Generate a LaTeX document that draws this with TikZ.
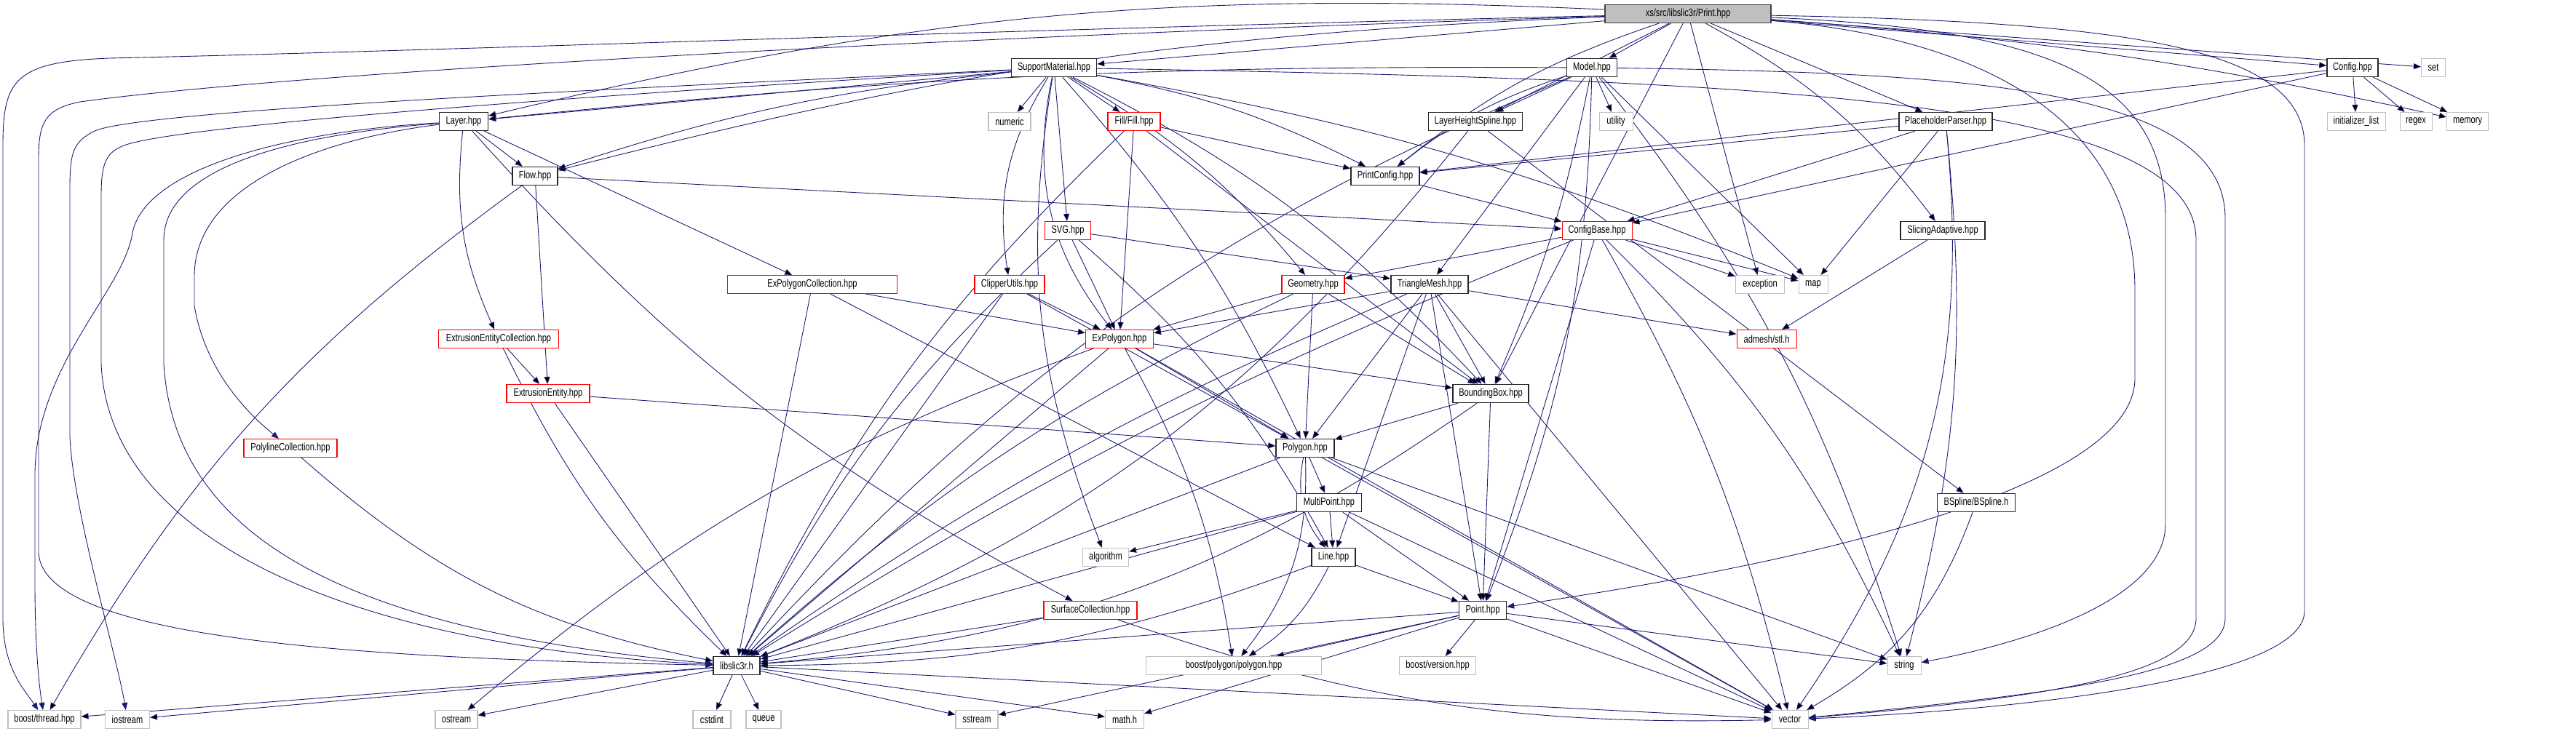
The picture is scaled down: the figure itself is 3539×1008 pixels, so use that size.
\documentclass[tikz,border=0pt]{standalone}
\usepackage{fontspec}
\setmainfont{Liberation Sans}[FakeStretch=0.76]
\usetikzlibrary{arrows.meta}
\definecolor{edgeblue}{HTML}{191970}
\definecolor{sysgray}{HTML}{BFBFBF}
\pgfdeclarelayer{edges}
\pgfsetlayers{edges,main}
\begin{document}
\begin{tikzpicture}
[
    x=0.2mm, y=-0.2mm,
    box/.style={rectangle, inner xsep=1pt, inner ysep=0pt, minimum height=5mm,
        font=\fontsize{8.3pt}{9pt}\selectfont, fill=white},
    wd/.style={minimum width=#1*0.2mm},
    file/.style={box, draw=black!85, line width=0.8pt},
    rootfile/.style={box, draw=black!75, fill=sysgray, line width=0.8pt},
    redfile/.style={box, draw=red, line width=0.6pt},
    sysfile/.style={box, draw=sysgray, line width=0.6pt},
    dep/.style={draw=edgeblue, line width=0.5pt, -{Triangle[length=2mm, width=1.6mm]}}
]
    \useasboundingbox (0,0) rectangle (3539,1008);

    % row 0 and 1
    \node [rootfile, wd=228] (print) at (2319,19) {xs/src/libslic3r/Print.hpp};
    \node [file, wd=117] (support) at (1448,93) {SupportMaterial.hpp};
    \node [file, wd=69] (model) at (2187,93) {Model.hpp};
    \node [file, wd=70] (config) at (3232,93) {Config.hpp};
    \node [sysfile, wd=33] (set) at (3343,93) {set};

    % row 2
    \node [file, wd=67] (layer) at (637,167) {Layer.hpp};
    \node [sysfile, wd=58] (numeric) at (1387,167) {numeric};
    \node [redfile, wd=72] (fill) at (1558,167) {Fill/Fill.hpp};
    \node [file, wd=129] (lhs) at (2027,167) {LayerHeightSpline.hpp};
    \node [sysfile, wd=46] (utility) at (2220,167) {utility};
    \node [file, wd=128] (placeholder) at (2673,167) {PlaceholderParser.hpp};
    \node [sysfile, wd=80] (initlist) at (3237,167) {initializer\_list};
    \node [sysfile, wd=44] (regex) at (3319,167) {regex};
    \node [sysfile, wd=57] (memory) at (3390,167) {memory};

    % rows 3 and 4
    \node [file, wd=62] (flow) at (735,242) {Flow.hpp};
    \node [file, wd=94] (printconfig) at (1903,242) {PrintConfig.hpp};
    \node [redfile, wd=63] (svg) at (1467,317) {SVG.hpp};
    \node [redfile, wd=96] (configbase) at (2194,317) {ConfigBase.hpp};
    \node [file, wd=116] (slicing) at (2669,317) {SlicingAdaptive.hpp};

    % rows 5 to 7
    \node [redfile, wd=233] (expcoll) at (1116,391) {ExPolygonCollection.hpp};
    \node [redfile, wd=96] (clipper) at (1387,391) {ClipperUtils.hpp};
    \node [redfile, wd=86] (geometry) at (1804,391) {Geometry.hpp};
    \node [file, wd=106] (trimesh) at (1964,391) {TriangleMesh.hpp};
    \node [sysfile, wd=67] (exception) at (2418,391) {exception};
    \node [sysfile, wd=40] (map) at (2491,391) {map};
    \node [redfile, wd=165] (eecoll) at (685,466) {ExtrusionEntityCollection.hpp};
    \node [redfile, wd=93] (expolygon) at (1538,466) {ExPolygon.hpp};
    \node [redfile, wd=82] (admesh) at (2427,466) {admesh/stl.h};
    \node [redfile, wd=114] (eentity) at (753,541) {ExtrusionEntity.hpp};
    \node [file, wd=104] (bbox) at (2048,541) {BoundingBox.hpp};

    % rows 8 to 11
    \node [redfile, wd=128] (polyline) at (399,616) {PolylineCollection.hpp};
    \node [file, wd=80] (polygon) at (1793,616) {Polygon.hpp};
    \node [file, wd=89] (multipoint) at (1826,691) {MultiPoint.hpp};
    \node [file, wd=107] (bspline) at (2715,691) {BSpline/BSpline.h};
    \node [sysfile, wd=63] (algorithm) at (1519,766) {algorithm};
    \node [file, wd=60] (line) at (1832,766) {Line.hpp};
    \node [redfile, wd=128] (surface) at (1498,839) {SurfaceCollection.hpp};
    \node [file, wd=65] (point) at (2037,839) {Point.hpp};

    % rows 12 and 13
    \node [file, wd=64] (libslic3r) at (1012,915) {libslic3r.h};
    \node [sysfile, wd=241] (bpolygon) at (1695,915) {boost/polygon/polygon.hpp};
    \node [sysfile, wd=105] (bversion) at (1975,915) {boost/version.hpp};
    \node [sysfile, wd=46] (string) at (2616,915) {string};
    \node [sysfile, wd=100] (bthread) at (61,989) {boost/thread.hpp};
    \node [sysfile, wd=61] (iostream) at (175,989) {iostream};
    \node [sysfile, wd=58] (ostream) at (627,989) {ostream};
    \node [sysfile, wd=52] (cstdint) at (978,989) {cstdint};
    \node [sysfile, wd=48] (queue) at (1049,989) {queue};
    \node [sysfile, wd=58] (sstream) at (1342,989) {sstream};
    \node [sysfile, wd=53] (mathh) at (1545,989) {math.h};
    \node [sysfile, wd=50] (vector) at (2459,989) {vector};

    \begin{pgfonlayer}{edges}
    % Print.hpp
    \path [dep] (print) edge (support) edge (model) edge (config) edge (set)
        edge [bend left=4] (memory) edge [bend right=8] (layer) edge [bend right=6] (flow)
        edge [bend right=10] (printconfig) edge (lhs) edge (placeholder)
        edge [bend left=12] (slicing) edge (bbox) edge (exception);
    \draw [dep] (print) .. controls (1400,40) and (600,70) .. (150,80)
        .. controls (20,85) and (4,110) .. (4,200) -- (4,850)
        .. controls (4,920) and (35,950) .. (bthread);
    \draw [dep] (print) .. controls (1300,50) and (400,100) .. (110,140)
        .. controls (60,150) and (53,170) .. (53,220) -- (53,760)
        .. controls (60,880) and (500,905) .. (libslic3r);
    \draw [dep] (print) .. controls (2900,30) and (3166,60) .. (3166,200) -- (3166,840)
        .. controls (3166,930) and (2800,975) .. (vector);
    \draw [dep] (print) .. controls (2800,40) and (2975,100) .. (2975,300) -- (2975,720)
        .. controls (2975,820) and (2800,880) .. (string);
    \draw [dep] (print) .. controls (2700,50) and (2933,150) .. (2933,400) -- (2933,520)
        .. controls (2933,700) and (2300,800) .. (point);

    % SupportMaterial.hpp
    \path [dep] (support) edge (layer) edge [bend right=6] (flow) edge [bend left=8] (printconfig)
        edge (numeric) edge (fill) edge (svg) edge [bend right=20] (clipper)
        edge [bend right=25] (expolygon) edge [bend left=10] (geometry)
        edge [bend right=15] (algorithm) edge [bend left=10] (bbox)
        edge [bend left=8] (polygon) edge [bend left=6] (map);
    \draw [dep] (support) .. controls (900,120) and (200,150) .. (130,180)
        .. controls (100,195) and (96,210) .. (96,260) -- (96,600)
        .. controls (100,700) and (160,900) .. (iostream);
    \draw [dep] (support) .. controls (900,125) and (250,170) .. (170,200)
        .. controls (145,210) and (139,225) .. (139,270) -- (139,500)
        .. controls (150,750) and (500,890) .. (libslic3r);
    \draw [dep] (support) .. controls (2400,110) and (3017,130) .. (3017,330) -- (3017,850)
        .. controls (3017,930) and (2800,960) .. (vector);

    % Model.hpp
    \path [dep] (model) edge [bend right=3] (layer) edge [bend right=10] (printconfig)
        edge (lhs) edge (utility) edge (trimesh) edge [bend left=6] (bbox)
        edge [bend left=10] (point) edge (map) edge [bend left=10] (string)
        edge [bend right=12] (libslic3r);
    \draw [dep] (model) .. controls (2700,100) and (3057,120) .. (3057,300) -- (3057,850)
        .. controls (3057,930) and (2800,955) .. (vector);

    % Config.hpp
    \path [dep] (config) edge (printconfig) edge (configbase) edge (initlist) edge (regex) edge (memory);

    % Layer.hpp
    \path [dep] (layer) edge (flow) edge [bend right=15] (eecoll) edge (expcoll) edge [bend right=10] (surface);
    \draw [dep] (layer) .. controls (400,180) and (200,230) .. (182,320)
        .. controls (170,400) and (50,500) .. (48,650) -- (48,800)
        .. controls (48,900) and (55,950) .. (bthread);
    \draw [dep] (layer) .. controls (400,185) and (225,230) .. (225,330) -- (225,500)
        .. controls (240,750) and (500,870) .. (libslic3r);
    \draw [dep] (layer) .. controls (450,190) and (267,250) .. (267,380) -- (267,420)
        .. controls (280,500) and (330,560) .. (polyline);

    % second level headers
    \path [dep] (fill) edge (printconfig) edge (expolygon) edge (bbox) edge [bend right=10] (libslic3r);
    \path [dep] (lhs) edge [bend left=15] (libslic3r) edge (bspline);
    \path [dep] (placeholder) edge (printconfig) edge (configbase) edge (map)
        edge [bend left=10] (string) edge [bend left=20] (vector);
    \path [dep] (flow) edge (configbase) edge (eentity) edge [bend right=12] (bthread);
    \path [dep] (printconfig) edge (configbase);
    \path [dep] (svg) edge (expolygon) edge (trimesh) edge [bend left=10] (line) edge [bend right=10] (libslic3r);
    \path [dep] (configbase) edge (geometry) edge (exception) edge (map) edge (point)
        edge [bend left=8] (vector) edge [bend left=10] (string) edge [bend right=5] (libslic3r);
    \path [dep] (slicing) edge (admesh);

    % third level headers
    \path [dep] (expcoll) edge (expolygon) edge (line) edge (libslic3r);
    \path [dep] (eecoll) edge (eentity) edge [bend right=10] (libslic3r);
    \path [dep] (eentity) edge (polygon) edge (libslic3r);
    \path [dep] (polyline) edge [bend right=15] (libslic3r);
    \path [dep] (clipper) edge (expolygon) edge (polygon) edge (libslic3r);
    \path [dep] (geometry) edge (expolygon) edge (polygon) edge (bbox) edge [bend right=8] (libslic3r);
    \path [dep] (trimesh) edge (expolygon) edge (polygon) edge (bbox) edge (line) edge (point)
        edge (admesh) edge (vector) edge [bend right=6] (libslic3r);
    \path [dep] (expolygon) edge (polygon) edge (bbox) edge [bend right=10] (ostream)
        edge [bend left=10] (bpolygon) edge (vector) edge (libslic3r);
    \path [dep] (bbox) edge (polygon) edge (point) edge [bend left=15] (libslic3r);

    % bottom headers
    \path [dep] (polygon) edge (multipoint) edge [bend right=25] (line) edge [bend left=20] (bpolygon)
        edge (string) edge (vector) edge (libslic3r);
    \path [dep] (multipoint) edge (algorithm) edge (line) edge (point) edge (vector) edge (libslic3r);
    \path [dep] (line) edge (point) edge [bend left=15] (bpolygon) edge [bend left=10] (libslic3r);
    \path [dep] (surface) edge (libslic3r) edge [bend right=10] (vector);
    \path [dep] (point) edge (libslic3r) edge (bpolygon) edge (bversion) edge (mathh)
        edge (sstream) edge (string) edge (vector);
    \path [dep] (bspline) edge [bend left=20] (vector);
    \path [dep] (libslic3r) edge (bthread) edge (iostream) edge (ostream) edge (cstdint)
        edge (queue) edge (sstream) edge (mathh) edge (vector);
    \end{pgfonlayer}
\end{tikzpicture}
\end{document}
